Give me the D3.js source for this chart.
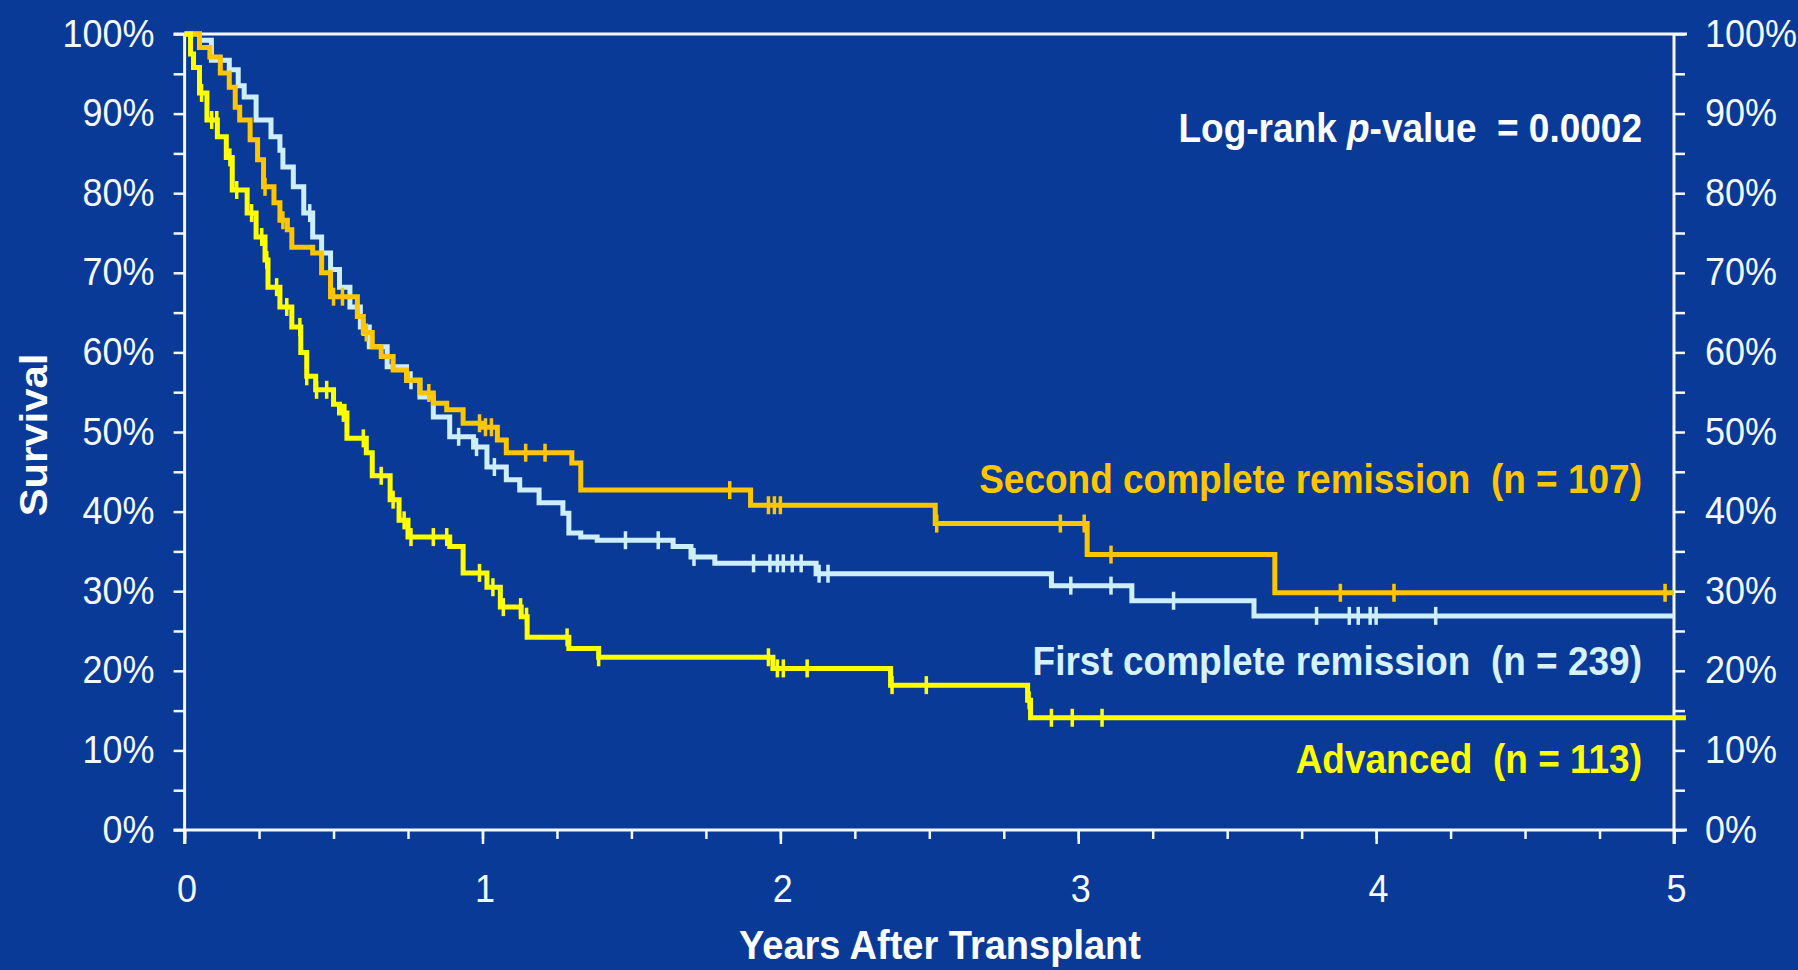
<!DOCTYPE html>
<html>
<head>
<meta charset="utf-8">
<script src="https://cdn.jsdelivr.net/npm/d3@7/dist/d3.min.js"></script>
<style>
  html, body { margin: 0; padding: 0; background: #0a3a98; }
  svg { display: block; }
  text { font-family: "Liberation Sans", Arial, Helvetica, sans-serif; }
</style>
</head>
<body>
<svg id="chart" width="1798" height="970"></svg>
<script>
// Axis ticks
const yearTicks = [0, 1, 2, 3, 4, 5];
const quarterTicks = d3.range(0, 5.001, 0.25);
const survivalTicks = [0, 10, 20, 30, 40, 50, 60, 70, 80, 90, 100];
const survivalMinorTicks = d3.range(0, 100.001, 5);

// Kaplan–Meier steps: event time (years) and survival (%) from that time on
const secondCRTime = [0, 0.05, 0.085, 0.12, 0.15, 0.17, 0.185, 0.22, 0.245, 0.265,
  0.30, 0.32, 0.345, 0.36, 0.43, 0.46, 0.49, 0.58, 0.60, 0.63,
  0.66, 0.70, 0.745, 0.79, 0.835, 0.88, 0.935, 1.0, 1.05, 1.08,
  1.30, 1.33, 1.90, 2.52, 3.03, 3.66];
const secondCRSurv = [100, 98.3, 97.1, 95.1, 93.3, 90.8, 89.2, 86.7, 84.2, 80.8,
  78.8, 76.6, 75.4, 73.2, 72.5, 70.0, 67.0, 64.5, 62.5, 60.7,
  59.5, 57.8, 56.5, 54.9, 53.6, 52.8, 51.1, 50.6, 49.0, 47.4,
  46.1, 42.7, 40.8, 38.5, 34.6, 29.8];
const secondCRCensor = [0.27, 0.33, 0.50, 0.53, 0.61, 0.82, 0.99, 1.01, 1.03, 1.145,
  1.21, 1.83, 1.96, 1.98, 2.00, 2.525, 2.94, 3.02, 3.11, 3.88, 4.06, 4.97];
const secondCREnd = 5.0;

const firstCRTime = [0, 0.05, 0.09, 0.15, 0.18, 0.20, 0.24, 0.29, 0.32, 0.33,
  0.365, 0.40, 0.43, 0.46, 0.49, 0.52, 0.555, 0.59, 0.62, 0.68,
  0.745, 0.79, 0.835, 0.89, 0.97, 1.015, 1.08, 1.125, 1.19, 1.27,
  1.29, 1.33, 1.385, 1.64, 1.70, 1.78, 2.12, 2.91, 3.18, 3.59];
const firstCRSurv = [100, 99.2, 96.7, 95.5, 93.5, 92.1, 89.2, 87.1, 85.4, 83.3,
  80.8, 77.5, 74.5, 72.5, 70.4, 68.2, 65.7, 63.2, 60.7, 58.2,
  56.5, 54.4, 51.9, 49.4, 48.1, 45.6, 44.0, 42.7, 41.1, 39.8,
  37.3, 36.8, 36.4, 35.6, 34.3, 33.5, 32.2, 30.7, 28.8, 26.9];
const firstCRCensor = [0.42, 0.60, 0.76, 0.92, 0.98, 1.04, 1.48, 1.59, 1.71, 1.91,
  1.965, 1.99, 2.01, 2.04, 2.07, 2.13, 2.16, 2.975, 3.11, 3.32,
  3.80, 3.91, 3.94, 3.98, 4.00, 4.20];
const firstCREnd = 5.0;

const advancedTime = [0, 0.02, 0.03, 0.05, 0.075, 0.11, 0.14, 0.16, 0.21, 0.24,
  0.27, 0.28, 0.32, 0.36, 0.39, 0.41, 0.44, 0.50, 0.52, 0.545,
  0.61, 0.63, 0.69, 0.72, 0.75, 0.89, 0.935, 1.015, 1.06, 1.13,
  1.15, 1.29, 1.39, 1.975, 2.37, 2.83, 2.84];
const advancedSurv = [100, 97.5, 95.8, 92.6, 89.2, 87.1, 84.5, 80.4, 77.5, 74.5,
  71.6, 68.2, 65.7, 63.2, 60.0, 57.0, 55.3, 53.5, 52.4, 49.2,
  47.4, 44.5, 41.5, 38.9, 36.8, 35.6, 32.3, 30.5, 28.0, 26.8,
  24.2, 22.8, 21.7, 20.3, 18.2, 16.3, 14.1];
const advancedCensor = [0.057, 0.091, 0.108, 0.152, 0.175, 0.225, 0.259, 0.276, 0.309, 0.343,
  0.387, 0.41, 0.443, 0.477, 0.533, 0.538, 0.60, 0.66, 0.70, 0.737,
  0.76, 0.835, 0.88, 0.99, 1.035, 1.07, 1.128, 1.148, 1.284, 1.39,
  1.96, 1.99, 2.01, 2.09, 2.375, 2.49, 2.835, 2.91, 2.98, 3.08];
const advancedEnd = 5.04;

// Group labels
const groupNames = ["First complete remission", "Second complete remission", "Advanced"];
const groupCounts = [239, 107, 113];
const pValueText = "0.0002";

const groups = [
  { name: groupNames[0], n: groupCounts[0], time: firstCRTime, surv: firstCRSurv, censor: firstCRCensor, end: firstCREnd,
    color: "#cdeefc", labelColor: "#d6f1ff", labelY: 675 },
  { name: groupNames[1], n: groupCounts[1], time: secondCRTime, surv: secondCRSurv, censor: secondCRCensor, end: secondCREnd,
    color: "#ffc600", labelColor: "#ffc600", labelY: 493 },
  { name: groupNames[2], n: groupCounts[2], time: advancedTime, surv: advancedSurv, censor: advancedCensor, end: advancedEnd,
    color: "#ffff00", labelColor: "#ffff00", labelY: 773 }
];

const svg = d3.select("#chart");
const W = 1798, H = 970;
svg.append("rect").attr("width", W).attr("height", H).attr("fill", "#0a3a98");

const x = d3.scaleLinear().domain([0, 5]).range([184.6, 1674]);
const y = d3.scaleLinear().domain([0, 100]).range([830, 34]);

const axisColor = "#f4f8ff";
const textStretch = 1.1;

// Left axis: ticks every 5%, labels every 10%
const leftAxis = svg.append("g")
  .attr("transform", `translate(${x(0)},0)`)
  .attr("color", axisColor)
  .call(d3.axisLeft(y).tickValues(survivalMinorTicks).tickSize(11).tickSizeOuter(0)
    .tickFormat(d => survivalTicks.includes(d) ? d + "%" : ""));
leftAxis.select(".domain").remove();
leftAxis.selectAll(".tick line").attr("stroke-width", 2.5);
leftAxis.selectAll(".tick text")
  .attr("x", null).attr("dy", null)
  .attr("font-size", 36)
  .attr("text-anchor", "end")
  .attr("transform", `translate(-30,12) scale(1,${textStretch})`);

// Right axis mirrors the left one
const rightAxis = svg.append("g")
  .attr("transform", `translate(${x(5)},0)`)
  .attr("color", axisColor)
  .call(d3.axisRight(y).tickValues(survivalMinorTicks).tickSize(11).tickSizeOuter(0)
    .tickFormat(d => survivalTicks.includes(d) ? d + "%" : ""));
rightAxis.select(".domain").remove();
rightAxis.selectAll(".tick line").attr("stroke-width", 2.5);
rightAxis.selectAll(".tick text")
  .attr("x", null).attr("dy", null)
  .attr("font-size", 36)
  .attr("text-anchor", "start")
  .attr("transform", `translate(31,12) scale(1,${textStretch})`);

// Bottom axis: quarter-year minor ticks, yearly labelled ticks
const minorX = svg.append("g")
  .attr("transform", `translate(0,${y(0)})`)
  .attr("color", axisColor)
  .call(d3.axisBottom(x).tickValues(quarterTicks).tickSize(9).tickSizeOuter(0).tickFormat(""));
minorX.select(".domain").remove();
minorX.selectAll(".tick line").attr("stroke-width", 2.5);

const majorX = svg.append("g")
  .attr("transform", `translate(0,${y(0)})`)
  .attr("color", axisColor)
  .call(d3.axisBottom(x).tickValues(yearTicks).tickSize(14).tickSizeOuter(0).tickFormat(d3.format("d")));
majorX.select(".domain").remove();
majorX.selectAll(".tick line").attr("stroke-width", 2.5);
majorX.selectAll(".tick text")
  .attr("y", null).attr("dy", null)
  .attr("font-size", 36)
  .attr("transform", `translate(2,72) scale(1,${textStretch})`);

// Frame lines
const frame = svg.append("g").attr("stroke", axisColor).attr("stroke-width", 3).attr("fill", "none");
frame.append("line").attr("x1", x(0) - 11).attr("x2", x(5) + 13).attr("y1", y(100)).attr("y2", y(100));
frame.append("line").attr("x1", x(0) - 11).attr("x2", x(5) + 13).attr("y1", y(0)).attr("y2", y(0));
frame.append("line").attr("x1", x(0)).attr("x2", x(0)).attr("y1", y(100)).attr("y2", y(0) + 14);
frame.append("line").attr("x1", x(5)).attr("x2", x(5)).attr("y1", y(100)).attr("y2", y(0) + 14);

// Survival curves
const line = d3.line().x(d => x(d[0])).y(d => y(d[1])).curve(d3.curveStepAfter);
const stepValue = (g, t) => {
  const i = d3.bisectRight(g.time, t) - 1;
  return g.surv[Math.max(0, i)];
};

const curves = svg.append("g");
groups.forEach(g => {
  const pts = g.time.map((t, i) => [t, g.surv[i]]);
  pts.push([g.end, g.surv[g.surv.length - 1]]);
  const cg = curves.append("g");
  cg.append("path")
    .datum(pts)
    .attr("d", line)
    .attr("fill", "none")
    .attr("stroke", g.color)
    .attr("stroke-width", 5)
    .attr("stroke-linejoin", "miter");
  cg.selectAll("line.censor")
    .data(g.censor)
    .join("line")
    .attr("class", "censor")
    .attr("x1", t => x(t)).attr("x2", t => x(t))
    .attr("y1", t => y(stepValue(g, t)) - 9)
    .attr("y2", t => y(stepValue(g, t)) + 9)
    .attr("stroke", g.color)
    .attr("stroke-width", 3.5);
});

// Group labels, right aligned
groups.forEach(g => {
  svg.append("g")
    .attr("transform", `translate(1642,${g.labelY}) scale(1,${textStretch})`)
    .append("text")
    .attr("text-anchor", "end")
    .attr("font-size", 37)
    .attr("font-weight", "bold")
    .attr("fill", g.labelColor)
    .style("white-space", "pre")
    .text(`${g.name}  (n = ${g.n})`);
});

// Log-rank p-value
const pv = svg.append("g")
  .attr("transform", `translate(1642,142) scale(1,${textStretch})`)
  .append("text")
  .attr("text-anchor", "end")
  .attr("font-size", 37)
  .attr("font-weight", "bold")
  .attr("fill", "#ffffff")
  .style("white-space", "pre");
pv.append("tspan").text("Log-rank ");
pv.append("tspan").attr("font-style", "italic").text("p");
pv.append("tspan").text(`-value  = ${pValueText}`);

// Axis titles
svg.append("g")
  .attr("transform", `translate(47,435) rotate(-90) scale(${textStretch},1)`)
  .append("text")
  .attr("text-anchor", "middle")
  .attr("font-size", 38)
  .attr("font-weight", "bold")
  .attr("fill", "#ffffff")
  .text("Survival");

svg.append("g")
  .attr("transform", `translate(940,959) scale(1,1.05)`)
  .append("text")
  .attr("text-anchor", "middle")
  .attr("font-size", 38)
  .attr("font-weight", "bold")
  .attr("fill", "#ffffff")
  .text("Years After Transplant");
</script>
</body>
</html>
